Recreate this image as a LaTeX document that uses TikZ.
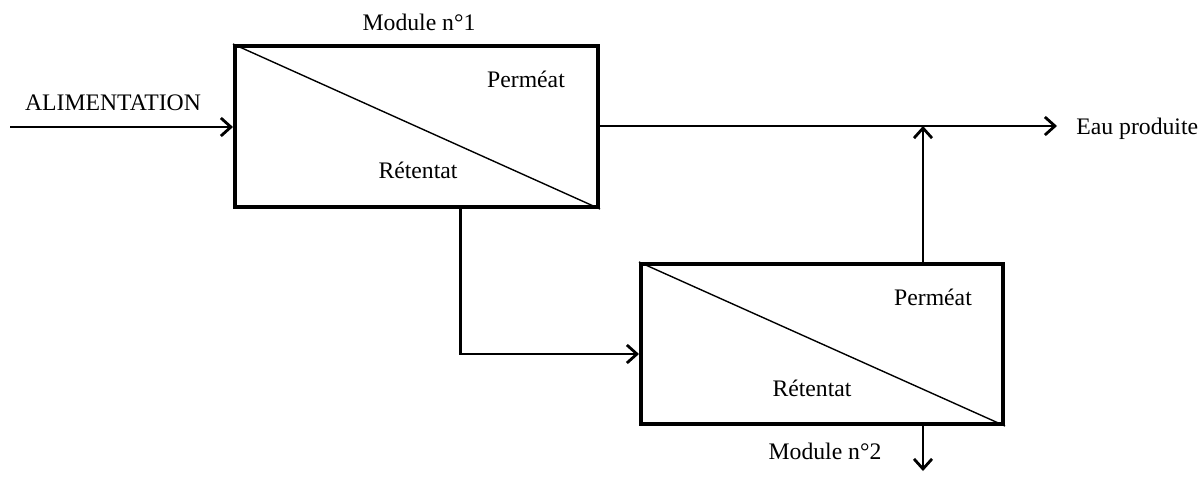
\documentclass[tikz,border=0pt]{standalone}
\usepackage{fontspec}
\setmainfont{Liberation Serif}
\usetikzlibrary{arrows.meta}

\begin{document}
\begin{tikzpicture}[x=0.5pt,y=-0.5pt,
  module/.style={draw,line width=2pt,rectangle,inner sep=0pt},
  flow/.style={line width=1.4pt,-{Straight Barb[length=5pt,width=9pt]}},
  membrane/.style={line width=0.7pt},
  lbl/.style={font=\fontsize{11.85}{14}\selectfont,inner sep=0pt,anchor=base}]

\useasboundingbox (0,0) rectangle (1200,478);

% membrane modules
\node[module,minimum width=181.5pt,minimum height=80.5pt] (m1) at (416.5,126.5) {};
\node[module,minimum width=181pt,minimum height=80pt] (m2) at (822,344) {};
\draw[membrane] (m1.north west) -- (m1.south east);
\draw[membrane] (m2.north west) -- (m2.south east);

% labels
\node[lbl] (t1) at (419,30) {Module n°1};
\node[lbl] (t2) at (825,459) {Module n°2};
\node[lbl] (p1) at (526,87) {Perméat};
\node[lbl] (r1) at (418,178) {Rétentat};
\node[lbl] (p2) at (933,305) {Perméat};
\node[lbl] (r2) at (812,396) {Rétentat};
\node[lbl] (feed) at (113,110.5) {ALIMENTATION};
\node[lbl,anchor=base west] (prod) at (1076,134) {Eau produite};

% connection points
\coordinate (in) at (10,127);
\coordinate (out) at (1057,126);
\coordinate (join) at (923,126);
\coordinate (bend) at (460.5,354);
\coordinate (drain) at (923,471);

% flows
\draw[flow] (in) -- (in -| m1.west);
\draw[flow] (m1.east |- out) -- (out);
\draw[flow] (m2.north -| join) -- (join);
\draw[flow] (m1.south -| bend) -- (bend) -- (bend -| m2.west);
\draw[flow] (m2.south -| drain) -- (drain);
\end{tikzpicture}
\end{document}
